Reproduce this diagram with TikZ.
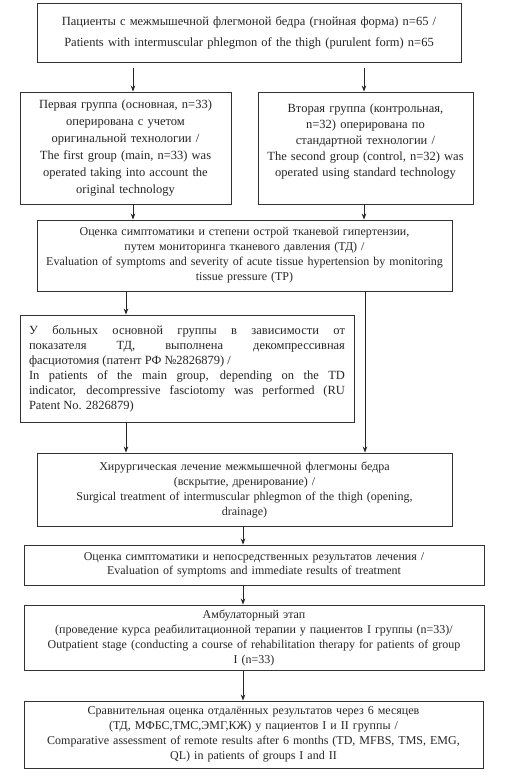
\documentclass[tikz,border=0pt]{standalone}
\usepackage{fontspec}
\setmainfont{Liberation Serif}
\usetikzlibrary{arrows.meta}
\begin{document}
\begin{tikzpicture}[x=1pt,y=-1pt,
  box/.style={draw=black!80, line width=0.9pt, align=center, inner sep=1pt,
    text=black!85, font=\fontsize{12}{15}\selectfont},
  arr/.style={draw=black!85, line width=0.8pt, -{Stealth[length=6pt,width=4.5pt]}},
  ln/.style={draw=black!85, line width=0.8pt}]
\useasboundingbox (0,0) rectangle (531,780);
\fill[white] (0,0) rectangle (531,780);

\node[box, minimum width=424pt, minimum height=59pt, text width=420pt,
  font=\fontsize{12.5}{15}\selectfont] (b1) at (249,32.5)
  {Пациенты с межмышечной флегмоной бедра (гнойная форма) n=65 /\\[6pt]
   Patients with intermuscular phlegmon of the thigh (purulent form) n=65};

\node[box, minimum width=211pt, minimum height=112pt, text width=207pt,
  font=\fontsize{12.5}{17}\selectfont] (b2l) at (125.5,148)
  {Первая группа (основная, n=33)\\ оперирована с учетом\\ оригинальной технологии /\\
   The first group (main, n=33) was\\ operated taking into account the\\ original technology};

\node[box, minimum width=215pt, minimum height=112pt, text width=211pt,
  font=\fontsize{12.5}{16}\selectfont] (b2r) at (365.5,148)
  {Вторая группа (контрольная,\\ n=32) оперирована по\\ стандартной технологии /\\
   The second group (control, n=32) was\\ operated using standard technology\\ \mbox{}};

\node[box, minimum width=415pt, minimum height=71pt, text width=411pt] (b3) at (244.5,255.5)
  {Оценка симптоматики и степени острой тканевой гипертензии,\\
   путем мониторинга тканевого давления (ТД) /\\
   Evaluation of symptoms and severity of acute tissue hypertension by monitoring\\
   tissue pressure (TP)};

\node[box, align=justify, minimum width=334pt, minimum height=107pt, text width=316pt,
  font=\fontsize{12.5}{15}\selectfont] (b4) at (187,368.5)
  {У больных основной группы в зависимости от\linebreak
   показателя ТД, выполнена декомпрессивная\linebreak
   фасциотомия (патент РФ №2826879) /\\
   In patients of the main group, depending on the TD\linebreak
   indicator, decompressive fasciotomy was performed (RU\linebreak
   Patent No. 2826879)};

\node[box, minimum width=415pt, minimum height=73pt, text width=411pt] (b5) at (244.5,489.5)
  {Хирургическая лечение межмышечной флегмоны бедра\\
   (вскрытие, дренирование) /\\
   Surgical treatment of intermuscular phlegmon of the thigh (opening,\\
   drainage)};

\node[box, minimum width=460pt, minimum height=40pt, text width=456pt,
  font=\fontsize{12}{14}\selectfont] (b6) at (254,565)
  {Оценка симптоматики и непосредственных результатов лечения /\\
   Evaluation of symptoms and immediate results of treatment};

\node[box, minimum width=460pt, minimum height=65pt, text width=456pt] (b7) at (254,637.5)
  {Амбулаторный этап\\
   (проведение курса реабилитационной терапии у пациентов I группы (n=33)/\\
   Outpatient stage (conducting a course of rehabilitation therapy for patients of group\\
   I (n=33)};

\node[box, minimum width=459pt, minimum height=67pt, text width=455pt] (b8) at (253.5,734.5)
  {Сравнительная оценка отдалённых результатов через 6 месяцев\\
   (ТД, МФБС,ТМС,ЭМГ,КЖ) у пациентов I и II группы /\\
   Comparative assessment of remote results after 6 months (TD, MFBS, TMS, EMG,\\
   QL) in patients of groups I and II};

\coordinate (xa) at (133,0);
\coordinate (xb) at (364,0);
\coordinate (xc) at (126,0);
\coordinate (xd) at (365,0);
\coordinate (xe) at (243,0);

\draw[arr, shorten <=6pt] (b1.south -| xa) -- (b2l.north -| xa);
\draw[arr, shorten <=6pt] (b1.south -| xb) -- (b2r.north -| xb);
\draw[arr] (b2l.south -| xa) -- (b3.north -| xa);
\draw[arr] (b2r.south -| xb) -- (b3.north -| xb);
\draw[arr] (b3.south -| xc) -- (b4.north -| xc);
\draw[arr] (b3.south -| xd) -- (b5.north -| xd);
\draw[arr] (b4.south -| xc) -- (b5.north -| xc);
\draw[arr] (b5.south -| xe) -- (b6.north -| xe);
\draw[arr] (b6.south -| xe) -- (b7.north -| xe);
\draw[arr] (b7.south -| xe) -- (b8.north -| xe);
\end{tikzpicture}
\end{document}
